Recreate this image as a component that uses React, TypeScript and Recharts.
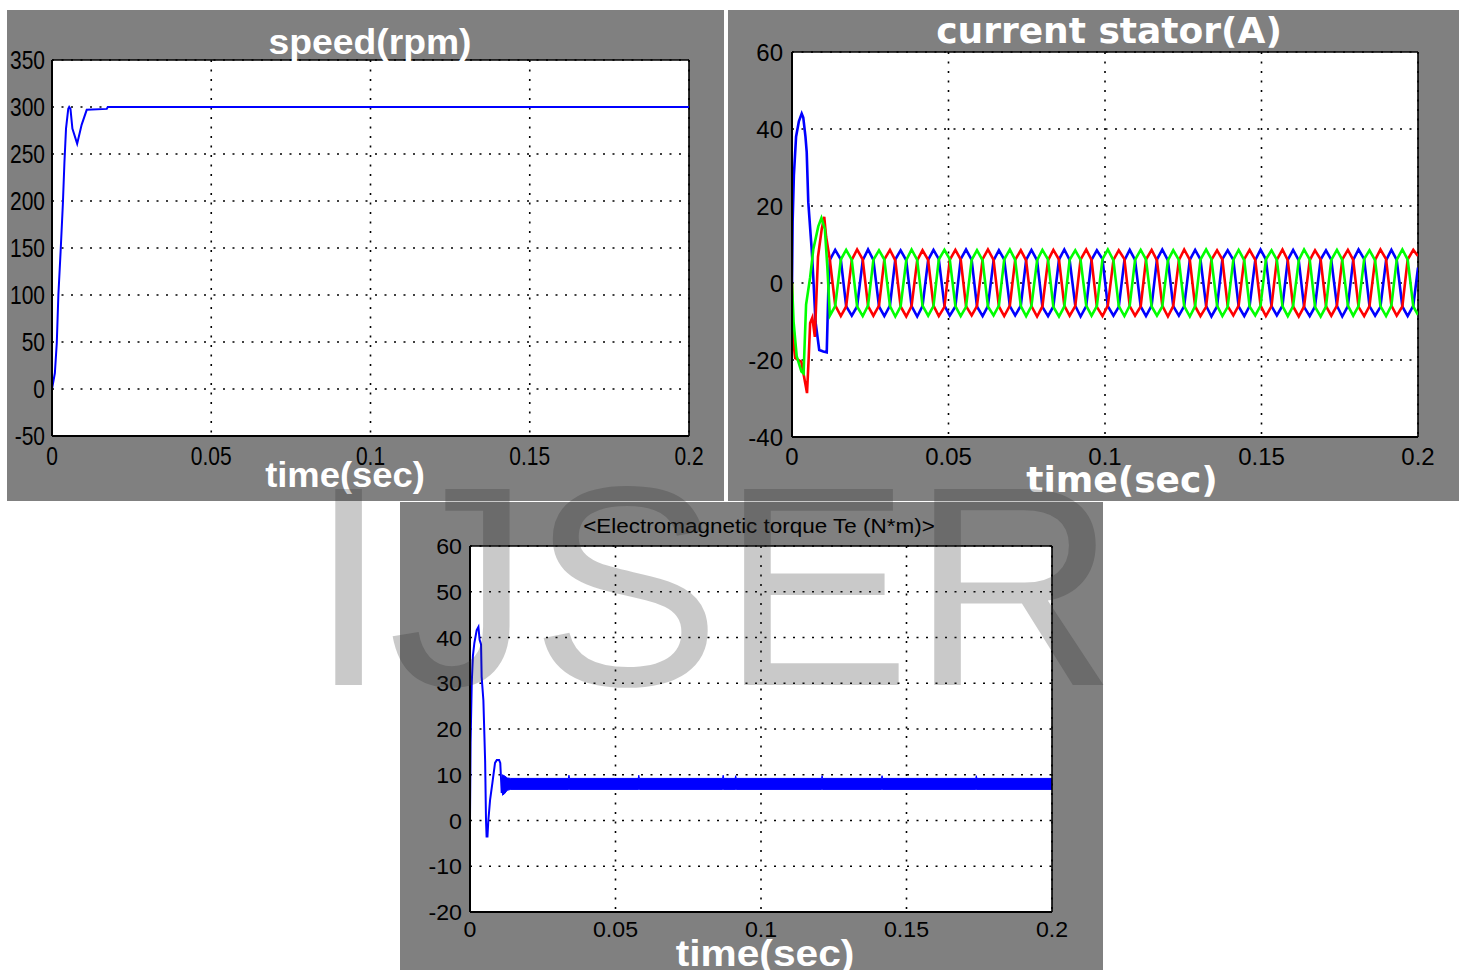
import React from 'react';
import { LineChart, ComposedChart, Line, Area, XAxis, YAxis, CartesianGrid, ReferenceLine } from 'recharts';

const FONT = "'Liberation Sans', Arial, Helvetica, sans-serif";
const DJ = "'DejaVu Sans', Verdana, sans-serif";

// ---- axis ticks ----
const timeTicks = [0, 0.05, 0.1, 0.15, 0.2];
const speedTicks = [-50, 0, 50, 100, 150, 200, 250, 300, 350];
const currentTicks = [-40, -20, 0, 20, 40, 60];
const torqueTicks = [-20, -10, 0, 10, 20, 30, 40, 50, 60];

// ---- speed (rpm) ----
const speedT = [0, 0.0009, 0.0015, 0.002, 0.0027, 0.0034, 0.0039, 0.0044, 0.0051, 0.0054, 0.0058, 0.0064, 0.0079, 0.0093, 0.0109, 0.0172, 0.0175, 0.2];
const speedV = [0, 17, 49, 100, 146, 196, 241, 277, 298, 300, 298, 277, 261, 281, 297, 298, 300, 300];

// ---- stator current transients (A) ----
const redTransT = [0, 0.0003, 0.001, 0.003, 0.004, 0.0048, 0.0053, 0.0058, 0.0065, 0.0073, 0.0083, 0.0095, 0.0103, 0.0109];
const redTransV = [0, -14, -19.5, -20.5, -25, -28.6, -20, -10.4, -9, -14, 6.8, 14, 17.2, 12];
const blueTransT = [0, 0.0002, 0.0006, 0.0013, 0.0022, 0.0031, 0.0036, 0.0043, 0.0047, 0.0052, 0.0063, 0.0068, 0.0075, 0.0087, 0.01, 0.0111, 0.0116];
const blueTransV = [0, 16, 28, 38, 42, 44, 43, 38, 34, 21, 8.6, 1.5, -10, -17.4, -17.8, -18, -2];
const greenTransT = [0, 0.0005, 0.0015, 0.003, 0.0037, 0.0045, 0.0058, 0.0068, 0.0084, 0.0094, 0.0105, 0.0113];
const greenTransV = [0, -10, -19, -23, -23.5, -5.6, 1.5, 8.7, 14.7, 16.9, 14, 4];

// ---- stator current steady state ----
const steadyT = [
  0.0121, 0.0138, 0.0156, 0.0173, 0.0191, 0.0208,
  0.0226, 0.0243, 0.0260, 0.0278, 0.0295, 0.0313,
  0.0330, 0.0347, 0.0365, 0.0382, 0.0400, 0.0417,
  0.0435, 0.0452, 0.0469, 0.0487, 0.0504, 0.0522,
  0.0539, 0.0556, 0.0574, 0.0591, 0.0609, 0.0626,
  0.0644, 0.0661, 0.0678, 0.0696, 0.0713, 0.0731,
  0.0748, 0.0765, 0.0783, 0.0800, 0.0818, 0.0835,
  0.0853, 0.0870, 0.0887, 0.0905, 0.0922, 0.0940,
  0.0957, 0.0974, 0.0992, 0.1009, 0.1027, 0.1044,
  0.1062, 0.1079, 0.1096, 0.1114, 0.1131, 0.1149,
  0.1166, 0.1183, 0.1201, 0.1218, 0.1236, 0.1253,
  0.1271, 0.1288, 0.1305, 0.1323, 0.1340, 0.1358,
  0.1375, 0.1392, 0.1410, 0.1427, 0.1445, 0.1462,
  0.1480, 0.1497, 0.1514, 0.1532, 0.1549, 0.1567,
  0.1584, 0.1601, 0.1619, 0.1636, 0.1654, 0.1671,
  0.1689, 0.1706, 0.1723, 0.1741, 0.1758, 0.1776,
  0.1793, 0.1810, 0.1828, 0.1845, 0.1863, 0.1880,
  0.1898, 0.1915, 0.1932, 0.1950, 0.1967, 0.1985,
  0.2000,
];
const redSteady = [
  6.0, -5.8, -8.6, -6.1, 6.0, 8.7,
  6.1, -6.0, -8.5, -5.9, 6.1, 8.6,
  5.9, -6.1, -8.7, -6.0, 5.9, 8.5,
  6.0, -5.9, -8.6, -6.2, 6.0, 8.6,
  6.1, -6.0, -8.4, -6.0, 6.2, 8.7,
  6.0, -6.1, -8.6, -5.9, 6.0, 8.5,
  5.9, -6.0, -8.7, -6.1, 5.9, 8.6,
  6.1, -5.9, -8.5, -6.0, 6.1, 8.7,
  6.0, -6.2, -8.6, -5.9, 6.0, 8.5,
  6.2, -6.0, -8.5, -6.1, 6.1, 8.6,
  5.9, -5.9, -8.7, -6.0, 5.9, 8.7,
  6.0, -6.1, -8.6, -6.2, 6.0, 8.5,
  6.1, -6.0, -8.4, -5.9, 6.2, 8.6,
  6.0, -5.9, -8.6, -6.0, 6.0, 8.7,
  5.9, -6.1, -8.7, -6.1, 5.9, 8.5,
  6.1, -6.0, -8.5, -5.9, 6.1, 8.6,
  6.0, -6.2, -8.6, -6.0, 6.0, 8.7,
  6.2, -5.9, -8.5, -6.1, 6.1, 8.6,
  7.0,
];
const blueSteady = [
  6.0, 8.6, 6.1, -6.0, -8.5, -6.1,
  5.9, 8.7, 6.0, -6.1, -8.6, -5.9,
  6.1, 8.5, 5.9, -6.0, -8.7, -6.0,
  6.0, 8.6, 6.2, -5.9, -8.5, -6.1,
  6.2, 8.7, 6.0, -6.1, -8.6, -6.0,
  5.9, 8.5, 6.1, -6.0, -8.4, -5.9,
  6.0, 8.6, 5.9, -6.2, -8.6, -6.1,
  6.1, 8.7, 6.0, -5.9, -8.7, -6.0,
  6.0, 8.5, 6.2, -6.0, -8.5, -6.2,
  5.9, 8.6, 6.0, -6.1, -8.6, -5.9,
  6.1, 8.7, 5.9, -6.0, -8.5, -6.0,
  6.0, 8.6, 6.1, -5.9, -8.7, -6.1,
  6.2, 8.5, 6.0, -6.1, -8.6, -6.0,
  5.9, 8.7, 6.1, -6.0, -8.4, -5.9,
  6.0, 8.6, 5.9, -6.2, -8.6, -6.1,
  6.1, 8.5, 6.0, -5.9, -8.7, -6.0,
  6.0, 8.7, 6.2, -6.0, -8.5, -6.2,
  5.9, 8.6, 6.0, -6.1, -8.6, -5.9,
  4.0,
];
const greenSteady = [
  -8.5, -6.0, 6.1, 8.6, 6.0, -6.1,
  -8.6, -5.9, 6.0, 8.5, 6.1, -6.0,
  -8.7, -6.1, 5.9, 8.7, 6.0, -5.9,
  -8.5, -6.0, 6.1, 8.6, 6.2, -6.0,
  -8.6, -6.2, 6.0, 8.5, 5.9, -6.1,
  -8.4, -5.9, 6.1, 8.7, 6.0, -6.0,
  -8.6, -6.0, 5.9, 8.6, 6.1, -6.2,
  -8.7, -6.1, 6.0, 8.5, 6.0, -5.9,
  -8.5, -6.0, 6.2, 8.7, 5.9, -6.0,
  -8.6, -5.9, 6.0, 8.6, 6.1, -6.1,
  -8.5, -6.1, 5.9, 8.5, 6.0, -6.0,
  -8.7, -6.0, 6.1, 8.7, 6.2, -5.9,
  -8.6, -6.2, 6.0, 8.6, 5.9, -6.1,
  -8.4, -5.9, 6.1, 8.5, 6.0, -6.0,
  -8.6, -6.0, 5.9, 8.7, 6.1, -6.2,
  -8.7, -6.1, 6.0, 8.6, 6.0, -5.9,
  -8.5, -6.0, 6.2, 8.5, 5.9, -6.0,
  -8.6, -5.9, 6.0, 8.7, 6.1, -6.1,
  -8.3,
];

// ---- electromagnetic torque (N*m) ----
const torqueT = [0, 0.0002, 0.0006, 0.001, 0.0015, 0.0023, 0.0029, 0.0033, 0.0038, 0.004, 0.0046, 0.0052, 0.0055, 0.0057, 0.006, 0.0063, 0.0069, 0.0077, 0.0086, 0.0092, 0.01, 0.0104, 0.0109, 0.0112];
const torqueV = [0, 17, 30, 36, 38.8, 41.6, 42.3, 39.5, 38.5, 31.4, 26.3, 13, 0, -3.5, -3.5, 0, 4.5, 8.2, 12.6, 13.2, 13.2, 12.6, 6, 8];
const bandT = [0.011, 0.0118, 0.0128, 0.014, 0.0338, 0.034, 0.0342, 0.0578, 0.058, 0.0582, 0.0868, 0.087, 0.0872, 0.0911, 0.0913, 0.0915, 0.1208, 0.121, 0.1212, 0.1414, 0.1416, 0.1418, 0.1738, 0.174, 0.1742, 0.2];
const bandLow = [5.5, 5.8, 6.6, 6.8, 6.8, 6.8, 6.8, 6.8, 6.8, 6.8, 6.8, 6.8, 6.8, 6.8, 6.8, 6.8, 6.8, 6.8, 6.8, 6.8, 6.8, 6.8, 6.8, 6.8, 6.8, 6.8];
const bandHigh = [10.0, 9.8, 9.3, 9.2, 9.2, 9.9, 9.2, 9.2, 9.9, 9.2, 9.2, 9.9, 9.2, 9.2, 9.8, 9.2, 9.2, 9.8, 9.2, 9.2, 9.8, 9.2, 9.2, 9.8, 9.2, 9.2];

const toRows = (ts: number[], vs: number[]) => ts.map((t, i) => ({ t, v: vs[i] }));
const speedData = toRows(speedT, speedV);
const redData = [...toRows(redTransT, redTransV), ...toRows(steadyT, redSteady)];
const blueData = [...toRows(blueTransT, blueTransV), ...toRows(steadyT, blueSteady)];
const greenData = [...toRows(greenTransT, greenTransV), ...toRows(steadyT, greenSteady)];
const torqueData = toRows(torqueT, torqueV);
const bandData = bandT.map((t, i) => ({ t, range: [bandLow[i], bandHigh[i]] }));

const GRAY = '#808080';

function makeYTick(fontSize: number, sx: number, gap: number) {
  return (props: any) => {
    const { x, y, payload } = props;
    return (
      <text
        transform={`translate(${x - gap},${y + fontSize * 0.36}) scale(${sx},1)`}
        textAnchor="end"
        fontSize={fontSize}
        fontFamily={FONT}
        fill="#000"
      >
        {String(payload.value)}
      </text>
    );
  };
}

function makeXTick(fontSize: number, sx: number, baseline: number) {
  return (props: any) => {
    const { x, y, payload } = props;
    return (
      <text
        transform={`translate(${x},${y + baseline}) scale(${sx},1)`}
        textAnchor="middle"
        fontSize={fontSize}
        fontFamily={FONT}
        fill="#000"
      >
        {String(payload.value)}
      </text>
    );
  };
}

const gridProps = { stroke: '#000', strokeDasharray: '2 7.5', strokeWidth: 1.6, fill: '#fff', fillOpacity: 1 } as any;
const axisLine = { stroke: '#000', strokeWidth: 2 };

const panel = (left: number, top: number, w: number, h: number): React.CSSProperties => ({
  position: 'absolute', left, top, width: w, height: h, background: GRAY,
});

export default function App() {
  return (
    <div style={{ position: 'absolute', left: 0, top: 0, width: 1464, height: 970, background: '#fff', overflow: 'hidden' }}>
      {/* speed panel */}
      <div style={panel(7, 10, 717, 491)}>
        <LineChart width={717} height={491} margin={{ top: 50, right: 35, bottom: 25, left: 0 }}>
          <CartesianGrid {...gridProps} />
          <XAxis dataKey="t" type="number" domain={[0, 0.2]} ticks={timeTicks} interval={0} allowDataOverflow
            height={40} tickSize={0} tickMargin={0} tickLine={false} axisLine={axisLine} tick={makeXTick(25, 0.84, 29)} />
          <YAxis type="number" domain={[-50, 350]} ticks={speedTicks} interval={0} allowDataOverflow
            width={45} tickSize={0} tickMargin={0} tickLine={false} axisLine={axisLine} tick={makeYTick(25, 0.84, 7)} />
          <ReferenceLine y={350} stroke="#000" strokeWidth={1.6} />
          <ReferenceLine x={0.2} stroke="#000" strokeWidth={1.6} />
          <Line data={speedData} dataKey="v" type="linear" stroke="#0000ff" strokeWidth={2} dot={false} isAnimationActive={false} />
        </LineChart>
      </div>

      {/* current panel */}
      <div style={panel(728, 10, 731, 491)}>
        <LineChart width={731} height={491} margin={{ top: 42, right: 41, bottom: 24, left: 0 }}>
          <CartesianGrid {...gridProps} />
          <XAxis dataKey="t" type="number" domain={[0, 0.2]} ticks={timeTicks} interval={0} allowDataOverflow
            height={40} tickSize={0} tickMargin={0} tickLine={false} axisLine={axisLine} tick={makeXTick(24, 1.0, 28)} />
          <YAxis type="number" domain={[-40, 60]} ticks={currentTicks} interval={0} allowDataOverflow
            width={64} tickSize={0} tickMargin={0} tickLine={false} axisLine={axisLine} tick={makeYTick(24, 1.0, 9)} />
          <ReferenceLine y={60} stroke="#000" strokeWidth={1.6} />
          <ReferenceLine x={0.2} stroke="#000" strokeWidth={1.6} />
          <Line data={blueData} dataKey="v" type="linear" stroke="#0000ff" strokeWidth={2.6} dot={false} isAnimationActive={false} />
          <Line data={redData} dataKey="v" type="linear" stroke="#ff0000" strokeWidth={2.6} dot={false} isAnimationActive={false} />
          <Line data={greenData} dataKey="v" type="linear" stroke="#00ff00" strokeWidth={2.6} dot={false} isAnimationActive={false} />
        </LineChart>
      </div>

      {/* torque panel */}
      <div style={panel(400, 502, 703, 468)}>
        <ComposedChart width={703} height={468} margin={{ top: 44, right: 51, bottom: 18, left: 0 }}>
          <CartesianGrid {...gridProps} />
          <XAxis dataKey="t" type="number" domain={[0, 0.2]} ticks={timeTicks} interval={0} allowDataOverflow
            height={40} tickSize={0} tickMargin={0} tickLine={false} axisLine={axisLine} tick={makeXTick(22.5, 1.03, 25)} />
          <YAxis type="number" domain={[-20, 60]} ticks={torqueTicks} interval={0} allowDataOverflow
            width={70} tickSize={0} tickMargin={0} tickLine={false} axisLine={axisLine} tick={makeYTick(22.5, 1.03, 8)} />
          <ReferenceLine y={60} stroke="#000" strokeWidth={1.6} />
          <ReferenceLine x={0.2} stroke="#000" strokeWidth={1.6} />
          <Area data={bandData} dataKey="range" type="linear" stroke="#0000ff" strokeWidth={1} fill="#0000ff" fillOpacity={1} dot={false} activeDot={false} isAnimationActive={false} />
          <Line data={torqueData} dataKey="v" type="linear" stroke="#0000ff" strokeWidth={2} dot={false} isAnimationActive={false} />
        </ComposedChart>
      </div>

      {/* titles, axis labels and watermark */}
      <svg width={1464} height={970} style={{ position: 'absolute', left: 0, top: 0, pointerEvents: 'none' }}>
        <text transform="translate(370,54) scale(1.065,1)" textAnchor="middle" fontFamily={FONT} fontWeight="bold" fontSize={35} fill="#fff">speed(rpm)</text>
        <text transform="translate(345,487) scale(1.04,1)" textAnchor="middle" fontFamily={FONT} fontWeight="bold" fontSize={35} fill="#fff">time(sec)</text>
        <text x={1109} y={43} textAnchor="middle" fontFamily={DJ} fontWeight="bold" fontSize={36} fill="#fff">current stator(A)</text>
        <text x={1122} y={492} textAnchor="middle" fontFamily={DJ} fontWeight="bold" fontSize={36} fill="#fff">time(sec)</text>
        <text transform="translate(759,533) scale(1.07,1)" textAnchor="middle" fontFamily={FONT} fontSize={21} fill="#000">{'<Electromagnetic torque Te (N*m)>'}</text>
        <text transform="translate(765,966) scale(1.13,1)" textAnchor="middle" fontFamily={FONT} fontWeight="bold" fontSize={36} fill="#fff">time(sec)</text>
        <text x={309} y={685} fontFamily={FONT} fontSize={285} fill="rgba(47,47,47,0.26)">IJSER</text>
      </svg>
    </div>
  );
}
